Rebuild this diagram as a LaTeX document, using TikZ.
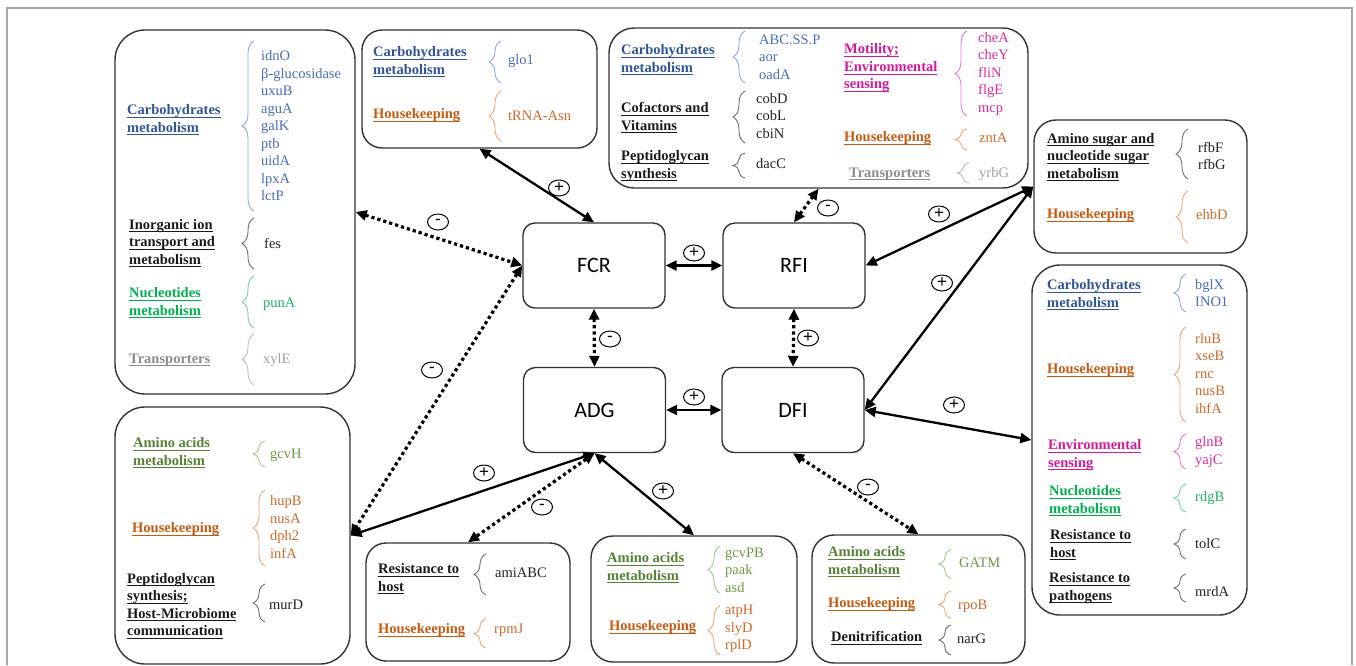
\documentclass[tikz,border=0pt]{standalone}
\usepackage{fontspec}
\setmainfont{Liberation Serif}
\newfontfamily\calib{Carlito}
\newfontfamily\sgnfont{Liberation Sans}
\usetikzlibrary{arrows.meta,shapes.geometric,decorations.pathreplacing}
\definecolor{hblue}{HTML}{2F5597}
\definecolor{gblue}{HTML}{4A6DB5}
\definecolor{bblue}{HTML}{8FA8D6}
\definecolor{horange}{HTML}{C55A11}
\definecolor{gorange}{HTML}{CC6A2C}
\definecolor{borange}{HTML}{E8A87C}
\definecolor{hgreen}{HTML}{00B050}
\definecolor{ggreen}{HTML}{1DB35F}
\definecolor{bgreen}{HTML}{6FD39A}
\definecolor{hagreen}{HTML}{548235}
\definecolor{gagreen}{HTML}{6A9A45}
\definecolor{bagreen}{HTML}{A6C68E}
\definecolor{hmag}{HTML}{D4189A}
\definecolor{gmag}{HTML}{DC2C9E}
\definecolor{bmag}{HTML}{E67CC2}
\definecolor{hgray}{HTML}{8C8C8C}
\definecolor{ggray}{HTML}{A0A0A0}
\definecolor{bgray}{HTML}{BDBDBD}
\definecolor{hblack}{HTML}{1A1A1A}
\definecolor{gblack}{HTML}{222222}
\definecolor{bblack}{HTML}{6E6E6E}
\definecolor{boxline}{HTML}{333333}
\definecolor{framegray}{HTML}{A6A6A6}
\newcommand{\ulnx}[1]{\setbox0\hbox{#1}\rlap{\rule[-3pt]{\wd0}{0.9pt}}\box0}
\tikzset{
  bigbox/.style={draw=boxline, line width=1.4pt, rectangle, inner sep=0pt},
  centre/.style={draw=boxline, line width=1.4pt, rectangle, rounded corners=12pt,
     minimum width=142pt, minimum height=85pt, font=\calib\fontsize{22}{24}\selectfont},
  hdrnode/.style={align=left, inner sep=0pt, anchor=west, font=\bfseries\fontsize{14.5}{17.5}\selectfont},
  genenode/.style={align=left, inner sep=0pt, anchor=west, font=\fontsize{14.5}{17.5}\selectfont},
  bracestyle/.style={line width=0.9pt, decorate, decoration={brace, amplitude=12pt}},
  solidarrow/.style={line width=2.3pt, {Triangle[length=11pt,width=10pt]}-{Triangle[length=11pt,width=10pt]}},
  dotarrow/.style={line width=3.2pt, dash pattern=on 3.2pt off 3pt, {Triangle[length=11pt,width=10pt]}-{Triangle[length=11pt,width=10pt]}},
  sign/.style={draw=black, line width=1pt, ellipse, minimum width=21pt, minimum height=16pt, inner sep=0pt, font=\sgnfont\fontsize{17}{17}\selectfont}
}
\newcommand{\hd}[5]{\node[hdrnode, text=#2] (#1) at (#3,#4) {#5};}
\newcommand{\gn}[5]{\node[genenode, text=#2] (#1) at (#3,#4) {#5};}
\newcommand{\brc}[4]{\draw[bracestyle, #1] ({#2+6},#4) -- ({#2+6},#3);}
\begin{document}
\begin{tikzpicture}[x=1pt, y=-1pt]
\useasboundingbox (0,0) rectangle (1356,665);
\draw[framegray, line width=1.3pt] (7,665) -- (7,8) -- (1352,8) -- (1352,665);

% ---------- boxes ----------
\node[bigbox, rounded corners=30pt, minimum width=240pt, minimum height=364pt] (lt) at (235,212) {};
\node[bigbox, rounded corners=20pt, minimum width=235pt, minimum height=118pt] (tm) at (479.5,89) {};
\node[bigbox, rounded corners=25pt, minimum width=419pt, minimum height=160pt] (tr) at (818.5,108) {};
\node[bigbox, rounded corners=22pt, minimum width=213pt, minimum height=133pt] (rt) at (1140.5,186.5) {};
\node[bigbox, rounded corners=28pt, minimum width=215pt, minimum height=350pt] (rb) at (1139.5,440) {};
\node[bigbox, rounded corners=30pt, minimum width=235pt, minimum height=257pt] (lb) at (232.5,535.5) {};
\node[bigbox, rounded corners=20pt, minimum width=204pt, minimum height=118pt] (b1) at (468,602) {};
\node[bigbox, rounded corners=22pt, minimum width=206pt, minimum height=126pt] (b2) at (694,599) {};
\node[bigbox, rounded corners=22pt, minimum width=213pt, minimum height=128pt] (b3) at (918.5,599) {};

% ---------- centre nodes ----------
\node[centre] (fcr) at (594,265.5) {FCR};
\node[centre] (rfi) at (794,265.5) {RFI};
\node[centre] (adg) at (594.5,410) {ADG};
\node[centre] (dfi) at (793,410) {DFI};

% ---------- left top box ----------
\hd{lt1}{hblue}{127}{120}{\ulnx{Carbohydrates}\\\ulnx{metabolism}}
\brc{bblue}{248}{41}{211}
\gn{lt1g}{gblue}{261}{126}{idnO\\β-glucosidase\\uxuB\\aguA\\galK\\ptb\\uidA\\lpxA\\lctP}
\hd{lt2}{hblack}{129}{243}{\ulnx{Inorganic ion}\\\ulnx{transport and}\\\ulnx{metabolism}}
\brc{bblack}{248}{218}{269}
\gn{lt2g}{gblack}{264}{243}{fes}
\hd{lt3}{hgreen}{129}{303}{\ulnx{Nucleotides}\\\ulnx{metabolism}}
\brc{bgreen}{248}{276}{328}
\gn{lt3g}{ggreen}{263}{304}{punA}
\hd{lt4}{hgray}{129}{360}{\ulnx{Transporters}}
\brc{bgray}{248}{334}{385}
\gn{lt4g}{ggray}{263}{360}{xylE}

% ---------- top middle box ----------
\hd{tm1}{hblue}{373}{62}{\ulnx{Carbohydrates}\\\ulnx{metabolism}}
\brc{bblue}{495}{41}{83}
\gn{tm1g}{gblue}{508}{61}{glo1}
\hd{tm2}{horange}{373}{115}{\ulnx{Housekeeping}}
\brc{borange}{495}{91}{141}
\gn{tm2g}{gorange}{508}{116}{tRNA-Asn}

% ---------- top right box ----------
\hd{tr1}{hblue}{621}{60}{\ulnx{Carbohydrates}\\\ulnx{metabolism}}
\brc{bblue}{739}{31}{83}
\gn{tr1g}{gblue}{759}{57}{ABC.SS.P\\aor\\oadA}
\hd{tr2}{hblack}{621}{118}{\ulnx{Cofactors and}\\\ulnx{Vitamins}}
\brc{bblack}{739}{91}{143}
\gn{tr2g}{gblack}{756}{116}{cobD\\cobL\\cbiN}
\hd{tr3}{hblack}{621}{166}{\ulnx{Peptidoglycan}\\\ulnx{synthesis}}
\brc{bblack}{739}{153}{178}
\gn{tr3g}{gblack}{756}{164}{dacC}
\hd{tr4}{hmag}{844}{68}{\ulnx{Motility;}\\\ulnx{Environmental}\\\ulnx{sensing}}
\brc{bmag}{961}{31}{116}
\gn{tr4g}{gmag}{978}{74}{cheA\\cheY\\fliN\\flgE\\mcp}
\hd{tr5}{horange}{844}{138}{\ulnx{Housekeeping}}
\brc{borange}{961}{129}{150}
\gn{tr5g}{gorange}{979}{138}{zntA}
\hd{tr6}{hgray}{849}{174}{\ulnx{Transporters}}
\brc{bgray}{963}{163}{183}
\gn{tr6g}{ggray}{979}{174}{yrbG}

% ---------- right top box ----------
\hd{rt1}{hblack}{1047}{157}{\ulnx{Amino sugar and}\\\ulnx{nucleotide sugar}\\\ulnx{metabolism}}
\brc{bblack}{1182}{129}{179}
\gn{rt1g}{gblack}{1198}{156}{rfbF\\rfbG}
\hd{rt2}{horange}{1047}{215}{\ulnx{Housekeeping}}
\brc{borange}{1182}{191}{243}
\gn{rt2g}{gorange}{1196}{215}{ehbD}

% ---------- right bottom box ----------
\hd{rb1}{hblue}{1047}{295}{\ulnx{Carbohydrates}\\\ulnx{metabolism}}
\brc{bblue}{1180}{274}{312}
\gn{rb1g}{gblue}{1195}{293}{bglX\\INO1}
\hd{rb2}{horange}{1047}{370}{\ulnx{Housekeeping}}
\brc{borange}{1180}{327}{422}
\gn{rb2g}{gorange}{1195}{373}{rluB\\xseB\\rnc\\nusB\\ihfA}
\hd{rb3}{hmag}{1048}{455}{\ulnx{Environmental}\\\ulnx{sensing}}
\brc{bmag}{1180}{434}{469}
\gn{rb3g}{gmag}{1195}{452}{glnB\\yajC}
\hd{rb4}{hgreen}{1049}{501}{\ulnx{Nucleotides}\\\ulnx{metabolism}}
\brc{bgreen}{1180}{484}{512}
\gn{rb4g}{ggreen}{1195}{498}{rdgB}
\hd{rb5}{hblack}{1050}{545}{\ulnx{Resistance to}\\\ulnx{host}}
\brc{bblack}{1180}{529}{559}
\gn{rb5g}{gblack}{1195}{544}{tolC}
\hd{rb6}{hblack}{1049}{588}{\ulnx{Resistance to}\\\ulnx{pathogens}}
\brc{bblack}{1180}{574}{602}
\gn{rb6g}{gblack}{1195}{592}{mrdA}

% ---------- left bottom box ----------
\hd{lb1}{hagreen}{133}{453}{\ulnx{Amino acids}\\\ulnx{metabolism}}
\brc{bagreen}{259}{441}{467}
\gn{lb1g}{gagreen}{270}{455}{gcvH}
\hd{lb2}{horange}{132}{529}{\ulnx{Housekeeping}}
\brc{borange}{259}{490}{566}
\gn{lb2g}{gorange}{270}{527}{hupB\\nusA\\dph2\\infA}
\hd{lb3}{hblack}{127}{606}{\ulnx{Peptidoglycan}\\\ulnx{synthesis;}\\\ulnx{Host-Microbiome}\\\ulnx{communication}}
\brc{bblack}{259}{584}{622}
\gn{lb3g}{gblack}{269}{605}{murD}

% ---------- bottom box 1 ----------
\hd{b11}{hblack}{378}{579}{\ulnx{Resistance to}\\\ulnx{host}}
\brc{bblack}{480}{554}{595}
\gn{b11g}{gblack}{495}{573}{amiABC}
\hd{b12}{horange}{378}{630}{\ulnx{Housekeeping}}
\brc{borange}{480}{619}{648}
\gn{b12g}{gorange}{494}{630}{rpmJ}

% ---------- bottom box 2 ----------
\hd{b21}{hagreen}{607}{568}{\ulnx{Amino acids}\\\ulnx{metabolism}}
\brc{bagreen}{714}{546}{593}
\gn{b21g}{gagreen}{725}{570}{gcvPB\\paak\\asd}
\hd{b22}{horange}{609}{627}{\ulnx{Housekeeping}}
\brc{borange}{714}{606}{655}
\gn{b22g}{gorange}{725}{629}{atpH\\slyD\\rplD}

% ---------- bottom box 3 ----------
\hd{b31}{hagreen}{828}{562}{\ulnx{Amino acids}\\\ulnx{metabolism}}
\brc{bagreen}{945}{550}{578}
\gn{b31g}{gagreen}{959}{563}{GATM}
\hd{b32}{horange}{828}{604}{\ulnx{Housekeeping}}
\brc{borange}{945}{591}{618}
\gn{b32g}{gorange}{958}{606}{rpoB}
\hd{b33}{hblack}{831}{638}{\ulnx{Denitrification}}
\brc{bblack}{945}{625}{655}
\gn{b33g}{gblack}{957}{639}{narG}

% ---------- connectors ----------
\draw[solidarrow] (tm.south) -- (fcr.north);
\draw[solidarrow] (fcr.east) -- (rfi.west);
\draw[dotarrow] (lt.east) -- (fcr.west);
\draw[dotarrow] (fcr.west) -- (lb.east);
\draw[dotarrow] (fcr.south) -- (adg.north);
\draw[solidarrow] (adg.east) -- (dfi.west);
\draw[dotarrow] (rfi.south) -- (dfi.north);
\draw[dotarrow] (rfi.north) -- (tr.south);
\draw[solidarrow] (rfi.east) -- (rt.west);
\draw[solidarrow] (dfi.east) -- (rt.west);
\draw[solidarrow] (dfi.east) -- (rb.west);
\draw[dotarrow] (dfi.south) -- (b3.north);
\draw[solidarrow] (adg.south) -- (b2.north);
\draw[solidarrow] (adg.south) -- (lb.east);
\draw[dotarrow] (adg.south) -- (b1.north);

% ---------- signs ----------
\node[sign] (s1) at (559,188) {+};
\node[sign] (s2) at (694,253) {+};
\node[sign] (s3) at (438,222) {-};
\node[sign] (s4) at (432,370) {-};
\node[sign] (s5) at (610,339) {-};
\node[sign] (s6) at (694,397) {+};
\node[sign] (s7) at (808,338) {+};
\node[sign] (s8) at (828,208) {-};
\node[sign] (s9) at (939,214) {+};
\node[sign] (s10) at (942,283) {+};
\node[sign] (s11) at (954,405) {+};
\node[sign] (s12) at (868,487) {-};
\node[sign] (s13) at (663,491) {+};
\node[sign] (s14) at (484,473) {+};
\node[sign] (s15) at (542,507) {-};
\end{tikzpicture}
\end{document}
